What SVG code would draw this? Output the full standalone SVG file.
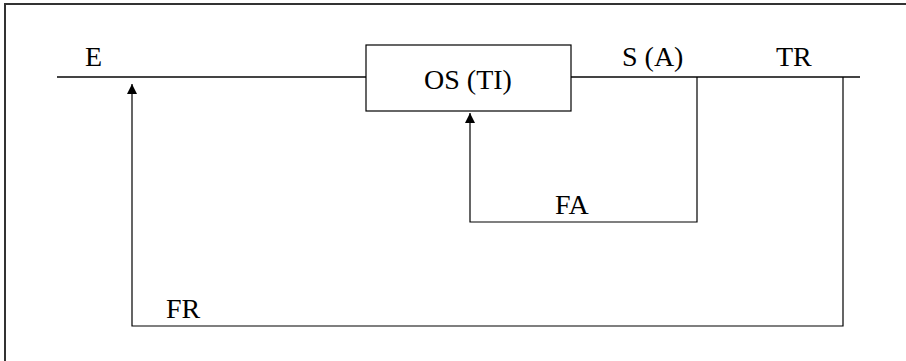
<svg xmlns="http://www.w3.org/2000/svg" width="906" height="361" viewBox="0 0 906 361">
<style>
.t{font-family:'Liberation Serif','Times New Roman','DejaVu Serif',serif;font-size:28px;fill:#000}
.ln{stroke:#000;stroke-width:1.2;fill:none}
.main{stroke:#444;stroke-width:2;fill:none}
</style>
<defs>
<marker id="ah" viewBox="0 0 10 10" refX="10" refY="5" markerWidth="10" markerHeight="10" markerUnits="userSpaceOnUse" orient="auto"><path d="M0,0 L10,5 L0,10 z" fill="#000"/></marker>
</defs>
<rect x="0" y="0" width="906" height="361" fill="#fff"/>
<path d="M5,361 V4 H906" stroke="#333" stroke-width="2" fill="none"/>
<g id="connectors">
<path class="main" d="M57,77 H366"/>
<path class="main" d="M571,77 H860"/>
<path class="ln" d="M697,77 V222 H470 V113" marker-end="url(#ah)"/>
<path class="ln" d="M843,77 V326 H132 V84" marker-end="url(#ah)"/>
</g>
<g id="os">
<rect x="366" y="45" width="205" height="66" fill="#fff" stroke="#000" stroke-width="1.2"/>
<text class="t" x="468" y="89" text-anchor="middle">OS (TI)</text>
</g>
<g id="labels">
<text class="t" x="85" y="66">E</text>
<text class="t" x="622" y="66">S (A)</text>
<text class="t" x="776" y="66">TR</text>
<text class="t" x="555" y="214">FA</text>
<text class="t" x="166" y="318">FR</text>
</g>
</svg>
